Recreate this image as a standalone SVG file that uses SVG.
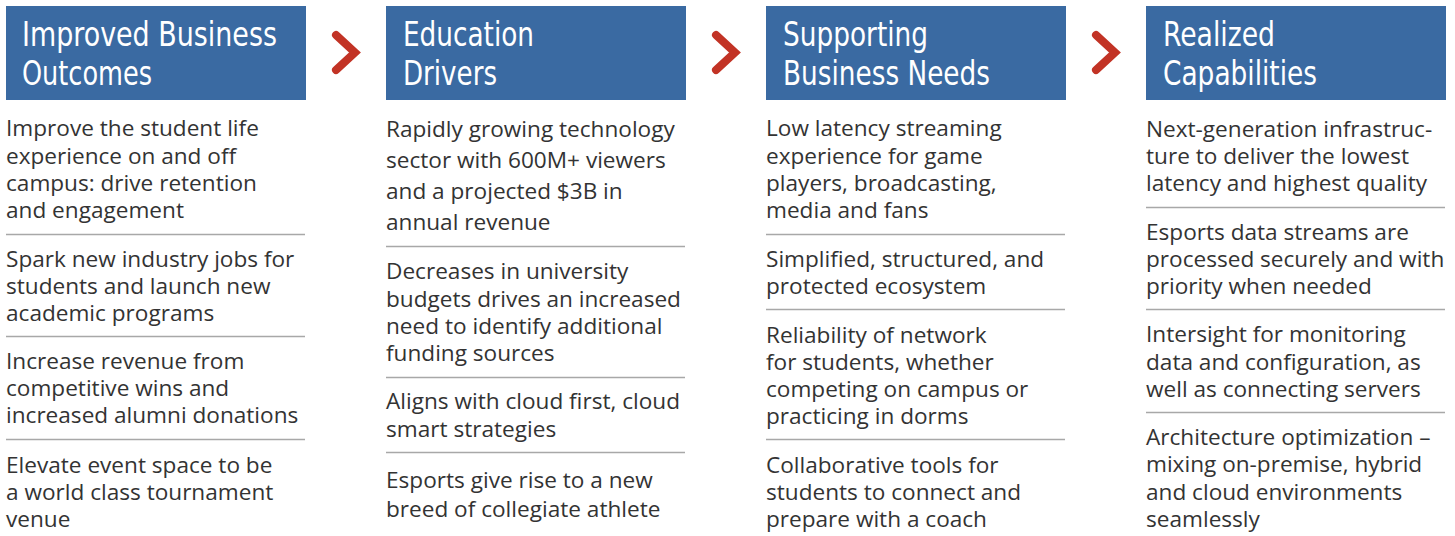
<svg xmlns="http://www.w3.org/2000/svg" width="1455" height="536" viewBox="0 0 1455 536">
<style>
.hdr{fill:#3a6aa2}
.ht{font-family:"DejaVu Sans Condensed","Liberation Sans Narrow","Liberation Sans",sans-serif;font-size:34px;fill:#ffffff}
.bt{font-family:"Open Sans","Liberation Sans",sans-serif;font-size:22.6px;fill:#333333}
.sep{stroke:#a8a8a8;stroke-width:1.3}
.chev{fill:none;stroke:#c23325;stroke-width:8;stroke-linecap:round;stroke-linejoin:miter}
</style>
<rect width="1455" height="536" fill="#ffffff"/>
<g id="col1">
<rect class="hdr" x="6" y="6" width="300" height="94"/>
<text class="ht" x="22" y="46" textLength="255" lengthAdjust="spacingAndGlyphs">Improved Business</text>
<text class="ht" x="22" y="85" textLength="130" lengthAdjust="spacingAndGlyphs">Outcomes</text>
<text class="bt" x="6" y="136">Improve the student life</text>
<text class="bt" x="6" y="164">experience on and off</text>
<text class="bt" x="6" y="191">campus: drive retention</text>
<text class="bt" x="6" y="218">and engagement</text>
<line class="sep" x1="6" y1="234.5" x2="305" y2="234.5"/>
<text class="bt" x="6" y="267">Spark new industry jobs for</text>
<text class="bt" x="6" y="294">students and launch new</text>
<text class="bt" x="6" y="321">academic programs</text>
<line class="sep" x1="6" y1="336.5" x2="305" y2="336.5"/>
<text class="bt" x="6" y="369">Increase revenue from</text>
<text class="bt" x="6" y="396">competitive wins and</text>
<text class="bt" x="6" y="423">increased alumni donations</text>
<line class="sep" x1="6" y1="439.5" x2="305" y2="439.5"/>
<text class="bt" x="6" y="473">Elevate event space to be</text>
<text class="bt" x="6" y="500">a world class tournament</text>
<text class="bt" x="6" y="527">venue</text>
</g>
<g id="col2">
<rect class="hdr" x="386" y="6" width="300" height="94"/>
<text class="ht" x="403" y="46" textLength="131" lengthAdjust="spacingAndGlyphs">Education</text>
<text class="ht" x="403" y="85" textLength="94" lengthAdjust="spacingAndGlyphs">Drivers</text>
<text class="bt" x="386" y="137">Rapidly growing technology</text>
<text class="bt" x="386" y="168">sector with 600M+ viewers</text>
<text class="bt" x="386" y="199">and a projected $3B in</text>
<text class="bt" x="386" y="230">annual revenue</text>
<line class="sep" x1="386" y1="246.5" x2="685" y2="246.5"/>
<text class="bt" x="386" y="279">Decreases in university</text>
<text class="bt" x="386" y="307">budgets drives an increased</text>
<text class="bt" x="386" y="334">need to identify additional</text>
<text class="bt" x="386" y="361">funding sources</text>
<line class="sep" x1="386" y1="377.5" x2="685" y2="377.5"/>
<text class="bt" x="386" y="409">Aligns with cloud first, cloud</text>
<text class="bt" x="386" y="437">smart strategies</text>
<line class="sep" x1="386" y1="452.5" x2="685" y2="452.5"/>
<text class="bt" x="386" y="488">Esports give rise to a new</text>
<text class="bt" x="386" y="517">breed of collegiate athlete</text>
</g>
<g id="col3">
<rect class="hdr" x="766" y="6" width="300" height="94"/>
<text class="ht" x="783" y="46" textLength="145" lengthAdjust="spacingAndGlyphs">Supporting</text>
<text class="ht" x="783" y="85" textLength="207" lengthAdjust="spacingAndGlyphs">Business Needs</text>
<text class="bt" x="766" y="136">Low latency streaming</text>
<text class="bt" x="766" y="164">experience for game</text>
<text class="bt" x="766" y="191">players, broadcasting,</text>
<text class="bt" x="766" y="218">media and fans</text>
<line class="sep" x1="766" y1="234.5" x2="1065" y2="234.5"/>
<text class="bt" x="766" y="267">Simplified, structured, and</text>
<text class="bt" x="766" y="294">protected ecosystem</text>
<line class="sep" x1="766" y1="309.5" x2="1065" y2="309.5"/>
<text class="bt" x="766" y="343">Reliability of network</text>
<text class="bt" x="766" y="370">for students, whether</text>
<text class="bt" x="766" y="397">competing on campus or</text>
<text class="bt" x="766" y="424">practicing in dorms</text>
<line class="sep" x1="766" y1="439.5" x2="1065" y2="439.5"/>
<text class="bt" x="766" y="473">Collaborative tools for</text>
<text class="bt" x="766" y="500">students to connect and</text>
<text class="bt" x="766" y="527">prepare with a coach</text>
</g>
<g id="col4">
<rect class="hdr" x="1146" y="6" width="300" height="94"/>
<text class="ht" x="1163" y="46" textLength="112" lengthAdjust="spacingAndGlyphs">Realized</text>
<text class="ht" x="1163" y="85" textLength="154" lengthAdjust="spacingAndGlyphs">Capabilities</text>
<text class="bt" x="1146" y="137">Next-generation infrastruc-</text>
<text class="bt" x="1146" y="164">ture to deliver the lowest</text>
<text class="bt" x="1146" y="191">latency and highest quality</text>
<line class="sep" x1="1146" y1="207.5" x2="1445" y2="207.5"/>
<text class="bt" x="1146" y="240">Esports data streams are</text>
<text class="bt" x="1146" y="267">processed securely and with</text>
<text class="bt" x="1146" y="294">priority when needed</text>
<line class="sep" x1="1146" y1="309.5" x2="1445" y2="309.5"/>
<text class="bt" x="1146" y="342">Intersight for monitoring</text>
<text class="bt" x="1146" y="370">data and configuration, as</text>
<text class="bt" x="1146" y="397">well as connecting servers</text>
<line class="sep" x1="1146" y1="412.5" x2="1445" y2="412.5"/>
<text class="bt" x="1146" y="445">Architecture optimization –</text>
<text class="bt" x="1146" y="472">mixing on-premise, hybrid</text>
<text class="bt" x="1146" y="500">and cloud environments</text>
<text class="bt" x="1146" y="527">seamlessly</text>
</g>
<g id="connectors">
<polyline class="chev" points="336,35 355,52.5 336,70"/>
<polyline class="chev" points="716,35 735,52.5 716,70"/>
<polyline class="chev" points="1096,35 1115,52.5 1096,70"/>
</g>
</svg>
